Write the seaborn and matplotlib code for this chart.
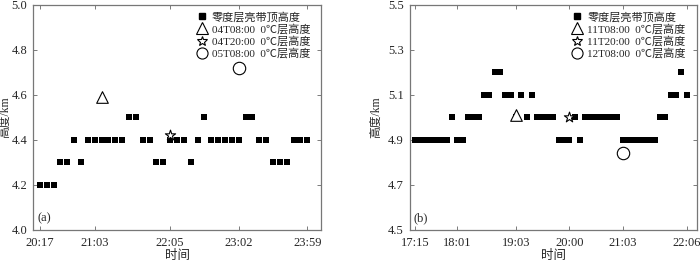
import numpy as np
import pandas as pd
import matplotlib
matplotlib.use("Agg")
import matplotlib.pyplot as plt
import seaborn as sns
from matplotlib.lines import Line2D

# ---------------- data ----------------
# panel (a): zero-layer bright band top height, one value per scan
a_heights = [4.2, 4.2, 4.2, 4.3, 4.3, 4.4, 4.3, 4.4, 4.4, 4.4, 4.4, 4.4, 4.4,
             4.5, 4.5, 4.4, 4.4, 4.3, 4.3, 4.4, 4.4, 4.4, 4.3, 4.4, 4.5,
             4.4, 4.4, 4.4, 4.4, 4.4, 4.5, 4.5, 4.4, 4.4, 4.3, 4.3, 4.3,
             4.4, 4.4, 4.4]
a_tick_idx = [0, 8, 19, 29, 39]
a_tick_labels = ["20:17", "21:03", "22:05", "23:02", "23:59"]
a_ref_idx = [9, 19, 29]
a_ref_heights = [4.59, 4.42, 4.72]
a_ref_labels = ["04T08:00  0\u2103层高度", "04T20:00  0\u2103层高度", "05T08:00  0\u2103层高度"]

# panel (b)
b_heights = [4.9, 4.9, 4.9, 4.9, 4.9, 4.9, 4.9, 5.0, 4.9, 4.9, 5.0, 5.0, 5.0,
             5.1, 5.1, 5.2, 5.2, 5.1, 5.1, 5.0, 5.1, 5.0, 5.1, 5.0, 5.0, 5.0,
             5.0, 4.9, 4.9, 4.9, 5.0, 4.9, 5.0, 5.0, 5.0, 5.0, 5.0, 5.0, 5.0,
             4.9, 4.9, 4.9, 4.9, 4.9, 4.9, 4.9, 5.0, 5.0, 5.1, 5.1, 5.2, 5.1]
b_tick_idx = [0, 8, 19, 29, 39, 51]
b_tick_labels = ["17:15", "18:01", "19:03", "20:00", "21:03", "22:06"]
b_ref_idx = [19, 29, 39]
b_ref_heights = [5.01, 5.00, 4.84]
b_ref_labels = ["11T08:00  0\u2103层高度", "11T20:00  0\u2103层高度", "12T08:00  0\u2103层高度"]

band_label = "零度层亮带顶高度"

# ---------------- style ----------------
sns.set_theme(style="white")
plt.rcParams["font.family"] = ["Liberation Serif", "Noto Sans CJK SC"]
plt.rcParams["axes.unicode_minus"] = False

fig = plt.figure(figsize=(7.0, 2.62), dpi=100)

ref_markers = ["^", "*", "o"]
ref_sizes = [70, 60, 80]


def draw_panel(ax, heights, tick_idx, tick_labels, ref_idx, ref_h, ref_labels,
               ylim, yticks, xlim, sq_size, tag, ylab_x):
    df = pd.DataFrame({"idx": np.arange(len(heights)), "h": heights})
    sns.scatterplot(data=df, x="idx", y="h", ax=ax, marker="s", s=sq_size,
                    color="black", edgecolor="black", linewidth=0, legend=False,
                    zorder=2)
    handles = [Line2D([], [], ls="none", marker="s", color="black",
                      markersize=4.5)]
    labels = [band_label]
    for i, (xi, yi, lab) in enumerate(zip(ref_idx, ref_h, ref_labels)):
        rdf = pd.DataFrame({"idx": [xi], "h": [yi]})
        sns.scatterplot(data=rdf, x="idx", y="h", ax=ax, marker=ref_markers[i],
                        s=ref_sizes[i], facecolor="white", edgecolor="black",
                        linewidth=0.8, legend=False, zorder=3)
        handles.append(Line2D([], [], ls="none", marker=ref_markers[i],
                              markerfacecolor="white", markeredgecolor="black",
                              markeredgewidth=0.8,
                              markersize=[8.0, 7.5, 8.0][i]))
        labels.append(lab)

    ax.set_xlim(*xlim)
    ax.set_ylim(*ylim)
    ax.set_yticks(yticks)
    ax.set_yticklabels([f"{v:.1f}" for v in yticks])
    ax.set_xticks(tick_idx)
    ax.set_xticklabels(tick_labels)
    ax.tick_params(direction="in", length=3, width=0.6, color="#666666",
                   top=True, right=True, bottom=True, left=True,
                   labelsize=9, pad=4)
    ax.tick_params(axis="x", pad=5)
    for sp in ax.spines.values():
        sp.set_color("#777777")
        sp.set_linewidth(0.9)
    ax.set_xlabel("时间", fontsize=9, labelpad=1)
    ax.set_ylabel("高度/km", fontsize=8.5)
    ax.yaxis.set_label_coords(ylab_x, 0.5)
    ax.text(0.015, 0.025, tag, transform=ax.transAxes, fontsize=9,
            ha="left", va="bottom")
    ax.legend(handles, labels, loc="upper right", bbox_to_anchor=(0.985, 1.0),
              frameon=False, fontsize=8, handlelength=1.0, handletextpad=0.4,
              labelspacing=0.12, borderaxespad=0.2)
    ax.grid(False)


ax_a = fig.add_axes([33 / 700, 32 / 262, 288 / 700, 225.3 / 262])
draw_panel(ax_a, a_heights, a_tick_idx, a_tick_labels, a_ref_idx,
           a_ref_heights, a_ref_labels, (4.0, 5.0),
           [4.0, 4.2, 4.4, 4.6, 4.8, 5.0], (-1.0, 41.0), 17, "(a)", -0.076)

ax_b = fig.add_axes([409.5 / 700, 32 / 262, 287.2 / 700, 225.3 / 262])
draw_panel(ax_b, b_heights, b_tick_idx, b_tick_labels, b_ref_idx,
           b_ref_heights, b_ref_labels, (4.5, 5.5),
           [4.5, 4.7, 4.9, 5.1, 5.3, 5.5], (-1.0, 52.9), 17, "(b)", -0.095)

fig.savefig("out.png", dpi=100)
